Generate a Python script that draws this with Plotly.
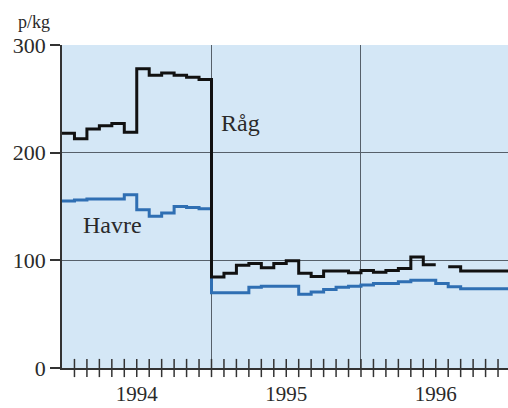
import plotly.graph_objects as go

# Monthly prices (p/kg), Jan 1994 - Dec 1996
years = ["1994", "1995", "1996"]
rag_1994 = [218, 213, 222, 225, 227, 219, 278, 272, 274, 272, 270, 268]
rag_1995 = [84.5, 88, 95.5, 97, 93, 97, 99.5, 88, 85, 90, 90, 88.5]
rag_1996 = [90.5, 89, 90.5, 92.5, 103, 96, None, 94, 90, 90, 90, 90]
havre_1994 = [155, 156, 157, 157, 157, 161, 147, 141, 144, 150, 149, 148]
havre_1995 = [70, 70, 70, 75, 76, 76, 76, 68.5, 70.5, 73, 75, 76]
havre_1996 = [77, 78.5, 78.5, 80, 81.5, 81.5, 78.5, 75.5, 73.5, 73.5, 73.5, 73.5]
y_ticks = [0, 100, 200, 300]

rag = rag_1994 + rag_1995 + rag_1996
havre = havre_1994 + havre_1995 + havre_1996


def step_path(values):
    xs, ys = [], []
    for i, v in enumerate(values):
        if v is None:
            xs.append(None)
            ys.append(None)
            continue
        xs += [i, i + 1]
        ys += [v, v]
    return xs, ys


SERIF = "Liberation Serif, Times New Roman, serif"
TXT = "#2a2a2a"

fig = go.Figure()
hx, hy = step_path(havre)
fig.add_trace(go.Scatter(x=hx, y=hy, mode="lines", line=dict(color="#2f6fb3", width=3),
                         connectgaps=False, showlegend=False, hoverinfo="skip"))
rx, ry = step_path(rag)
fig.add_trace(go.Scatter(x=rx, y=ry, mode="lines", line=dict(color="#111111", width=3),
                         connectgaps=False, showlegend=False, hoverinfo="skip"))

# month tick marks crossing the x axis
n_months = len(rag)
fig.add_trace(go.Scatter(x=list(range(1, n_months + 1)), y=[0] * n_months, mode="markers",
                         marker=dict(symbol="line-ns", size=13,
                                     line=dict(color="#333333", width=1.5)),
                         cliponaxis=False, showlegend=False, hoverinfo="skip"))

fig.update_layout(
    width=508, height=408,
    margin=dict(l=62, r=0, t=45, b=40),
    paper_bgcolor="white",
    plot_bgcolor="#d4e7f6",
    font=dict(family=SERIF, color=TXT),
    xaxis=dict(
        range=[0, 35.8], automargin=False,
        tickvals=[6, 18, 30], ticktext=years,
        ticks="", showgrid=False, zeroline=False,
        ticklabelstandoff=6,
        showline=True, linecolor="#333333", linewidth=1.5,
        tickfont=dict(family=SERIF, size=21, color=TXT),
        minor=dict(tickvals=[12, 24], showgrid=True, gridcolor="#56606a", gridwidth=1, ticks=""),
    ),
    yaxis=dict(
        range=[0, 300], automargin=False,
        tickvals=y_ticks,
        ticks="outside", ticklen=10, tickwidth=1.5, tickcolor="#333333",
        showgrid=True, gridcolor="#56606a", gridwidth=1,
        zeroline=False,
        showline=True, linecolor="#333333", linewidth=1.5,
        tickfont=dict(family=SERIF, size=22, color=TXT),
    ),
    annotations=[
        dict(text="Råg", x=12.6, y=228, xref="x", yref="y", xanchor="left", yanchor="middle",
             showarrow=False, font=dict(family=SERIF, size=24, color=TXT)),
        dict(text="Havre", x=1.55, y=133, xref="x", yref="y", xanchor="left", yanchor="middle",
             showarrow=False, font=dict(family=SERIF, size=24, color=TXT)),
        dict(text="p/kg", x=-0.104, y=1.034, xref="paper", yref="paper", xanchor="left",
             yanchor="bottom", showarrow=False, font=dict(family=SERIF, size=18, color=TXT)),
    ],
)

fig.write_html("out.html", config={"displayModeBar": False},
               post_script="document.body.style.margin='0';document.body.style.overflow='hidden';")
